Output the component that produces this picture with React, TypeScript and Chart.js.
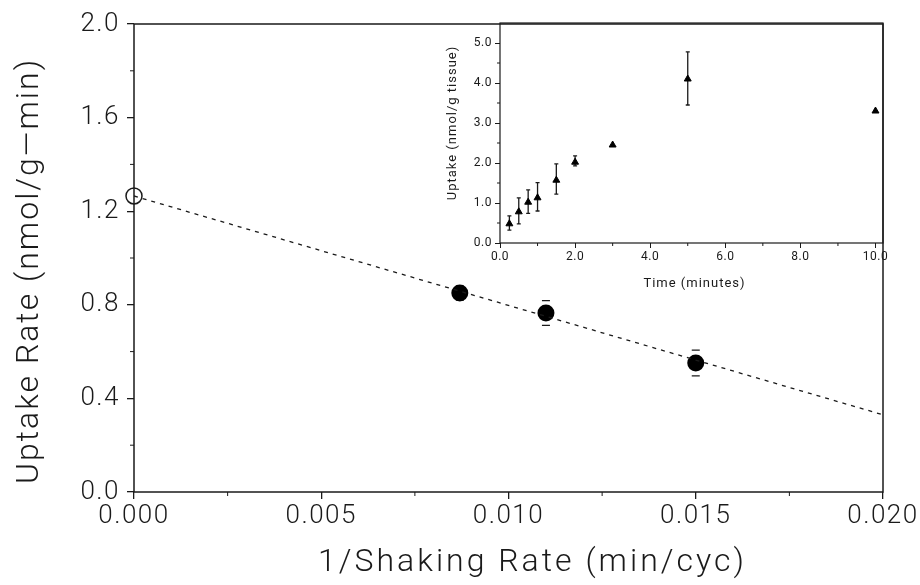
import React, { useEffect, useRef } from "react";
import { Chart, registerables } from "chart.js";

Chart.register(...registerables);

// ---- Main chart data ----
const shakeX = [0.0087, 0.011, 0.015];
const shakeY = [0.85, 0.765, 0.551];
const shakeErr = [0.03, 0.053, 0.055];
const interceptX = [0];
const interceptY = [1.265];
const fitX = [0, 0.02];
const fitY = [1.265, 0.33];
const mainXTicks = [0, 0.005, 0.01, 0.015, 0.02];
const mainYTicks = [0, 0.4, 0.8, 1.2, 1.6, 2.0];
const mainXMinor = [0.0025, 0.0075, 0.0125, 0.0175];
const mainYMinor = [0.2, 0.6, 1.0, 1.4, 1.8];

// ---- Inset data ----
const timeX = [0.25, 0.5, 0.75, 1, 1.5, 2, 3, 5, 10];
const uptakeY = [0.48, 0.78, 1.02, 1.13, 1.57, 2.02, 2.45, 4.1, 3.3];
const uptakeLo = [0.32, 0.48, 0.74, 0.8, 1.22, 1.93, 2.45, 3.45, 3.3];
const uptakeHi = [0.68, 1.13, 1.33, 1.51, 1.98, 2.18, 2.45, 4.78, 3.3];
const insetXTicks = [0, 2, 4, 6, 8, 10];
const insetYTicks = [0, 1, 2, 3, 4, 5];
const insetXMinor = [1, 3, 5, 7, 9];
const insetYMinor = [0.5, 1.5, 2.5, 3.5, 4.5];

const INK = "#1a1a1a";
const MAIN_FONT = "Roboto";

function setTicks(values: number[]) {
  return (scale: any) => {
    scale.ticks = values.map((v) => ({ value: v }));
  };
}

function spacingPlugin(spacing: string) {
  return {
    id: "spacing",
    beforeDraw(chart: any) {
      chart.ctx.letterSpacing = spacing;
    },
  };
}

function makeFramePlugin(opts: {
  xMinor: number[];
  yMinor: number[];
  minorLen: number;
  lineWidth: number;
}) {
  return {
    id: "frame",
    afterDraw(chart: any) {
      const { ctx, chartArea } = chart;
      const xs = chart.scales.x;
      const ys = chart.scales.y;
      ctx.save();
      ctx.strokeStyle = INK;
      ctx.lineWidth = opts.lineWidth;
      ctx.strokeRect(
        chartArea.left,
        chartArea.top,
        chartArea.right - chartArea.left,
        chartArea.bottom - chartArea.top
      );
      ctx.lineWidth = 1;
      ctx.beginPath();
      for (const v of opts.xMinor) {
        const px = xs.getPixelForValue(v);
        ctx.moveTo(px, chartArea.bottom);
        ctx.lineTo(px, chartArea.bottom + opts.minorLen);
      }
      for (const v of opts.yMinor) {
        const py = ys.getPixelForValue(v);
        ctx.moveTo(chartArea.left, py);
        ctx.lineTo(chartArea.left - opts.minorLen, py);
      }
      ctx.stroke();
      ctx.restore();
    },
  };
}

function makeErrorPlugin(
  xs: number[],
  lo: number[],
  hi: number[],
  capW: number,
  drawStem: boolean,
  id: string
) {
  return {
    id,
    beforeDatasetsDraw(chart: any) {
      const { ctx } = chart;
      const sx = chart.scales.x;
      const sy = chart.scales.y;
      ctx.save();
      ctx.strokeStyle = INK;
      ctx.lineWidth = 1.3;
      ctx.beginPath();
      xs.forEach((x, i) => {
        if (hi[i] === lo[i]) return;
        const px = sx.getPixelForValue(x);
        const pLo = sy.getPixelForValue(lo[i]);
        const pHi = sy.getPixelForValue(hi[i]);
        if (drawStem) {
          ctx.moveTo(px, pLo);
          ctx.lineTo(px, pHi);
        }
        ctx.moveTo(px - capW / 2, pLo);
        ctx.lineTo(px + capW / 2, pLo);
        ctx.moveTo(px - capW / 2, pHi);
        ctx.lineTo(px + capW / 2, pHi);
      });
      ctx.stroke();
      ctx.restore();
    },
  };
}

const mainTitlePlugin = {
  id: "mainTitles",
  afterDraw(chart: any) {
    const { ctx, chartArea } = chart;
    ctx.save();
    ctx.fillStyle = INK;
    ctx.font = `300 32px ${MAIN_FONT}`;
    ctx.textAlign = "center";
    ctx.textBaseline = "middle";
    ctx.letterSpacing = "3px";
    ctx.fillText(
      "1/Shaking Rate (min/cyc)",
      (chartArea.left + chartArea.right) / 2 + 24,
      chartArea.bottom + 71
    );
    ctx.letterSpacing = "2px";
    ctx.translate(chartArea.left - 104, (chartArea.top + chartArea.bottom) / 2 + 13);
    ctx.rotate(-Math.PI / 2);
    ctx.fillText("Uptake Rate (nmol/g\u2014min)", 0, 0);
    ctx.restore();
  },
};

const insetTitlePlugin = {
  id: "insetTitles",
  afterDraw(chart: any) {
    const { ctx, chartArea } = chart;
    ctx.save();
    ctx.fillStyle = INK;
    ctx.font = `400 13px ${MAIN_FONT}`;
    ctx.textAlign = "center";
    ctx.textBaseline = "middle";
    ctx.letterSpacing = "1px";
    ctx.fillText(
      "Time (minutes)",
      (chartArea.left + chartArea.right) / 2 + 3,
      chartArea.bottom + 41
    );
    ctx.translate(chartArea.left - 47, (chartArea.top + chartArea.bottom) / 2 - 10);
    ctx.rotate(-Math.PI / 2);
    ctx.fillText("Uptake (nmol/g tissue)", 0, 0);
    ctx.restore();
  },
};

export default function App() {
  const mainRef = useRef<HTMLCanvasElement | null>(null);
  const insetRef = useRef<HTMLCanvasElement | null>(null);

  useEffect(() => {
    if (!mainRef.current || !insetRef.current) return;

    const mainChart = new Chart(mainRef.current, {
      type: "scatter",
      data: {
        datasets: [
          {
            type: "line",
            data: fitX.map((x, i) => ({ x, y: fitY[i] })),
            borderColor: INK,
            borderWidth: 1.3,
            borderDash: [4, 5],
            pointRadius: 0,
            fill: false,
          } as any,
          {
            data: interceptX.map((x, i) => ({ x, y: interceptY[i] })),
            pointRadius: 8,
            pointBackgroundColor: "rgba(0,0,0,0)",
            pointBorderColor: INK,
            pointBorderWidth: 1.5,
            clip: false,
          } as any,
          {
            data: shakeX.map((x, i) => ({ x, y: shakeY[i] })),
            pointRadius: 8.5,
            pointBackgroundColor: "#000",
            pointBorderColor: "#000",
            pointBorderWidth: 0,
            clip: false,
          } as any,
        ],
      },
      options: {
        animation: false,
        responsive: false,
        events: [],
        layout: { padding: { top: 24, right: 37, left: 0, bottom: 0 } },
        plugins: { legend: { display: false }, tooltip: { enabled: false } },
        scales: {
          x: {
            type: "linear",
            min: 0,
            max: 0.02,
            afterBuildTicks: setTicks(mainXTicks),
            afterFit: (s: any) => {
              s.height = 93;
            },
            border: { display: false },
            grid: {
              drawOnChartArea: false,
              drawTicks: true,
              tickLength: 7,
              color: INK,
              lineWidth: 1.3,
            },
            ticks: {
              color: INK,
              font: { family: MAIN_FONT, size: 26, weight: "300" },
              padding: 2,
              maxRotation: 0,
              callback: (v: any) => Number(v).toFixed(3),
            },
          },
          y: {
            type: "linear",
            min: 0,
            max: 2,
            afterBuildTicks: setTicks(mainYTicks),
            afterFit: (s: any) => {
              s.width = 134;
            },
            border: { display: false },
            grid: {
              drawOnChartArea: false,
              drawTicks: true,
              tickLength: 7,
              color: INK,
              lineWidth: 1.3,
            },
            ticks: {
              color: INK,
              font: { family: MAIN_FONT, size: 26, weight: "300" },
              padding: 7,
              callback: (v: any) => Number(v).toFixed(1),
            },
          },
        },
      } as any,
      plugins: [
        spacingPlugin("1.5px"),
        makeErrorPlugin(
          shakeX,
          shakeY.map((y, i) => y - shakeErr[i]),
          shakeY.map((y, i) => y + shakeErr[i]),
          8,
          false,
          "mainErr"
        ),
        makeFramePlugin({
          xMinor: mainXMinor,
          yMinor: mainYMinor,
          minorLen: 4,
          lineWidth: 1.5,
        }),
        mainTitlePlugin,
      ],
    });

    const insetChart = new Chart(insetRef.current, {
      type: "scatter",
      data: {
        datasets: [
          {
            data: timeX.map((x, i) => ({ x, y: uptakeY[i] })),
            pointStyle: "triangle",
            pointRadius: 4,
            pointBackgroundColor: "#000",
            pointBorderColor: "#000",
            pointBorderWidth: 1,
            clip: false,
          } as any,
        ],
      },
      options: {
        animation: false,
        responsive: false,
        events: [],
        layout: { padding: { top: 23, right: 17, left: 0, bottom: 0 } },
        plugins: { legend: { display: false }, tooltip: { enabled: false } },
        scales: {
          x: {
            type: "linear",
            min: 0,
            max: 10.2,
            afterBuildTicks: setTicks(insetXTicks),
            afterFit: (s: any) => {
              s.height = 57;
            },
            border: { display: false },
            grid: {
              drawOnChartArea: false,
              drawTicks: true,
              tickLength: 5,
              color: INK,
              lineWidth: 1,
            },
            ticks: {
              color: INK,
              font: { family: MAIN_FONT, size: 12, weight: "400" },
              padding: 2,
              maxRotation: 0,
              callback: (v: any) => Number(v).toFixed(1),
            },
          },
          y: {
            type: "linear",
            min: 0,
            max: 5.5,
            afterBuildTicks: setTicks(insetYTicks),
            afterFit: (s: any) => {
              s.width = 80;
            },
            border: { display: false },
            grid: {
              drawOnChartArea: false,
              drawTicks: true,
              tickLength: 5,
              color: INK,
              lineWidth: 1,
            },
            ticks: {
              color: INK,
              font: { family: MAIN_FONT, size: 12, weight: "400" },
              padding: 3,
              callback: (v: any) => Number(v).toFixed(1),
            },
          },
        },
      } as any,
      plugins: [
        spacingPlugin("0.5px"),
        makeErrorPlugin(timeX, uptakeLo, uptakeHi, 4, true, "insetErr"),
        makeFramePlugin({
          xMinor: insetXMinor,
          yMinor: insetYMinor,
          minorLen: 3,
          lineWidth: 1.2,
        }),
        insetTitlePlugin,
      ],
    });

    return () => {
      mainChart.destroy();
      insetChart.destroy();
    };
  }, []);

  return (
    <div
      style={{
        position: "absolute",
        left: 0,
        top: 0,
        width: 920,
        height: 585,
        background: "#fff",
      }}
    >
      <canvas
        ref={mainRef}
        width={920}
        height={585}
        style={{ position: "absolute", left: 0, top: 0, width: 920, height: 585 }}
      />
      <canvas
        ref={insetRef}
        width={480}
        height={300}
        style={{ position: "absolute", left: 420, top: 0, width: 480, height: 300 }}
      />
    </div>
  );
}
